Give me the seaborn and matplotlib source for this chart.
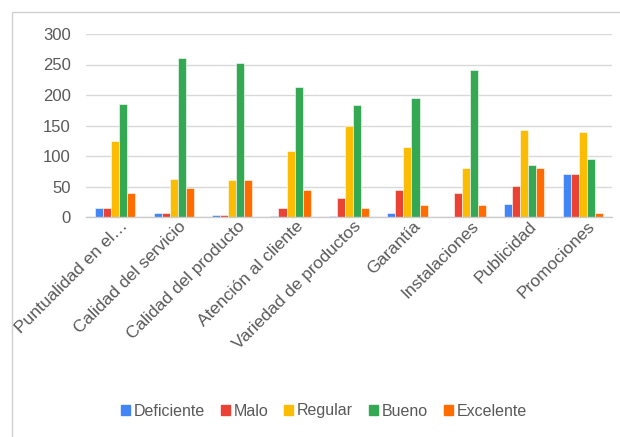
import matplotlib
matplotlib.use("Agg")
import matplotlib.pyplot as plt
import matplotlib.patches as mpatches
import seaborn as sns
import pandas as pd

categorias = ["Puntualidad en el…", "Calidad del servicio", "Calidad del producto",
              "Atención al cliente", "Variedad de productos", "Garantía",
              "Instalaciones", "Publicidad", "Promociones"]
niveles = ["Deficiente", "Malo", "Regular", "Bueno", "Excelente"]

deficiente = [15, 7, 4, 2, 2, 7, 0, 22, 71]
malo = [15, 7, 4, 15, 31, 44, 40, 51, 71]
regular = [124, 62, 60, 108, 150, 115, 80, 142, 139]
bueno = [186, 261, 252, 213, 183, 195, 241, 86, 95]
excelente = [40, 47, 60, 44, 15, 20, 20, 80, 7]

colores = ["#4285F4", "#EA4335", "#FBBC04", "#34A853", "#FF6D01"]

series = [deficiente, malo, regular, bueno, excelente]
filas = []
for nivel, valores in zip(niveles, series):
    for cat, v in zip(categorias, valores):
        filas.append({"categoria": cat, "nivel": nivel, "valor": v})
df = pd.DataFrame(filas)

sns.set_theme(style="white")
plt.rcParams["font.family"] = ["Liberation Sans", "DejaVu Sans"]

fig = plt.figure(figsize=(6.2, 4.37), dpi=100)
ax = fig.add_axes([86 / 620, 1 - 217 / 437, (612 - 86) / 620, (217 - 34) / 437])

sns.barplot(data=df, x="categoria", y="valor", hue="nivel", order=categorias,
            hue_order=niveles, palette=colores, width=0.69, gap=0,
            saturation=1, edgecolor="white", linewidth=0.4, ax=ax, legend=False)

ax.set_ylim(0, 300)
ax.set_yticks([0, 50, 100, 150, 200, 250, 300])
ax.set_xlim(-0.5, len(categorias) - 0.5)
ax.yaxis.grid(True, color="#d9d9d9", linewidth=1)
ax.set_axisbelow(True)
for s in ["top", "right", "left"]:
    ax.spines[s].set_visible(False)
ax.spines["bottom"].set_color("#cccccc")
ax.spines["bottom"].set_linewidth(1)
ax.set_xlabel("")
ax.set_ylabel("")
ax.tick_params(axis="y", length=0, pad=11, labelsize=12, labelcolor="#595959")
ax.tick_params(axis="x", length=0, pad=2, labelsize=12.5, labelcolor="#595959")
for lbl in ax.get_xticklabels():
    lbl.set_rotation(45)
    lbl.set_ha("right")
    lbl.set_va("center")
    lbl.set_rotation_mode("anchor")
    lbl.set_transform(lbl.get_transform() + matplotlib.transforms.ScaledTranslation(10 / 100, -4 / 100, fig.dpi_scale_trans))

handles = [mpatches.Patch(color=c, label=n) for c, n in zip(colores, niveles)]
fig.legend(handles=handles, loc="center", bbox_to_anchor=(324 / 620, 1 - 411 / 437),
           ncol=5, frameon=False, fontsize=11.5, labelcolor="#595959",
           handlelength=0.55, handleheight=0.55, handletextpad=0.25, columnspacing=1.0)

# outer frame
fig.add_artist(mpatches.Rectangle((11.5 / 620, -0.1), 1.2, 1 - 11.5 / 437 + 0.1,
                                  transform=fig.transFigure, fill=False,
                                  edgecolor="#d0d0d0", linewidth=1))

fig.savefig("out.png", dpi=100)
